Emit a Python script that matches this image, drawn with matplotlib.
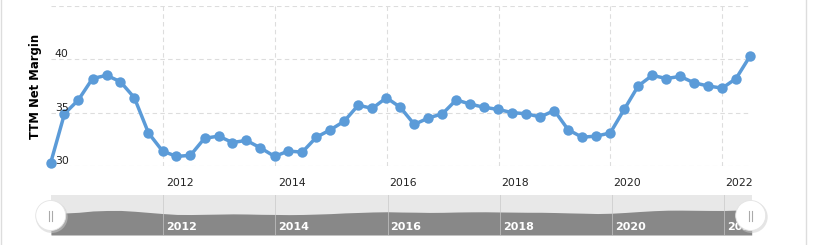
import matplotlib
matplotlib.use("Agg")
import matplotlib.pyplot as plt
import matplotlib.dates as mdates
import matplotlib.transforms as mtransforms
from matplotlib.patches import Ellipse
from matplotlib.lines import Line2D
import pandas as pd

# ── Data: quarterly TTM net margin (%) ────────────────────────────────
dates = pd.date_range("2009-12-31", periods=51, freq="QE")
margin = [
    30.3, 34.9, 36.2, 38.2, 38.5, 37.9, 36.4, 33.1, 31.4, 30.9,
    31.0, 32.6, 32.8, 32.2, 32.4, 31.7, 30.9, 31.4, 31.3, 32.7,
    33.4, 34.2, 35.7, 35.4, 36.4, 35.5, 33.9, 34.5, 34.9, 36.2,
    35.8, 35.5, 35.3, 35.0, 34.9, 34.6, 35.2, 33.4, 32.7, 32.8,
    33.1, 35.3, 37.5, 38.5, 38.2, 38.4, 37.8, 37.5, 37.3, 38.2,
    40.3,
]
year_ticks = [2012, 2014, 2016, 2018, 2020, 2022]
y_ticks = [30, 35, 40]

W, H = 836, 245
LINE = "#5b9bd8"
GRID = "#dddddd"

fig = plt.figure(figsize=(W / 100, H / 100), dpi=100)
fig.patch.set_facecolor("white")


def box(x0, y0, x1, y1):
    """pixel box (top-left origin) -> figure fraction rect"""
    return [x0 / W, 1 - y1 / H, (x1 - x0) / W, (y1 - y0) / H]


x = mdates.date2num(dates)
year_x = [mdates.date2num(pd.Timestamp(f"{y}-01-01")) for y in year_ticks]

# ── Main chart ────────────────────────────────────────────────────────
ax = fig.add_axes(box(50.7, 6, 750, 166))
ax.set_facecolor("none")
for s in ax.spines.values():
    s.set_visible(False)
ax.set_xlim(x[0], x[-1])
ax.set_ylim(30, 45)
ax.set_xticks(year_x)
ax.set_yticks([30, 35, 40, 45])
ax.grid(True, color=GRID, linestyle=(0, (4, 3)), linewidth=0.8)
ax.tick_params(length=0, labelleft=False)
ax.set_xticklabels([str(y) for y in year_ticks], fontsize=7.8, color="#222222", ha="left")
off = mtransforms.ScaledTranslation(3 / 100, -7 / 100, fig.dpi_scale_trans)
for lbl in ax.get_xticklabels():
    lbl.set_transform(lbl.get_transform() + off)

ax.plot(x, margin, color=LINE, linewidth=2.5, marker="o", markersize=7.5,
        markeredgewidth=0, clip_on=False, zorder=3)

ytrans = mtransforms.blended_transform_factory(ax.transAxes, ax.transData)
for v in y_ticks:
    ax.text(0.006, v, str(v), transform=ytrans, fontsize=7.8, color="#222222",
            ha="left", va="bottom", zorder=4)

fig.text(35 / W, 1 - 86 / H, "TTM Net Margin", rotation=90, fontsize=8.4,
         fontweight="bold", color="black", ha="center", va="center")

# ── Navigator ─────────────────────────────────────────────────────────
nav = fig.add_axes(box(51, 195, 751.7, 235))
nav.set_facecolor("#e8e8e8")
for s in nav.spines.values():
    s.set_visible(False)
nav.set_xlim(x[0], x[-1])
nav.set_ylim(0, 61.5)
nav_vals = pd.Series(margin).rolling(4, center=True, min_periods=1).mean()
nav.fill_between(x, nav_vals, 0, color="#888888", linewidth=0)
nav.set_xticks([])
nav.set_yticks([])
nav_off = mtransforms.ScaledTranslation(3 / 100, 0, fig.dpi_scale_trans)
for yx, y in zip(year_x, year_ticks):
    nav.axvline(yx, color="#c8c8c8", linewidth=0.7, alpha=0.7)
    nav.text(yx, 13, str(y), fontsize=8, color="white", fontweight="semibold",
             ha="left", va="center", clip_on=True,
             transform=nav.transData + nav_off)

# navigator handles
for cx in (50.7, 750.7):
    cy = 215.5
    fig.add_artist(Ellipse((cx / W + 1 / W, 1 - (cy + 1.5) / H), 32 / W, 32 / H,
                           transform=fig.transFigure, facecolor="#cccccc",
                           edgecolor="none", alpha=0.5))
    fig.add_artist(Ellipse((cx / W, 1 - cy / H), 30 / W, 30 / H,
                           transform=fig.transFigure, facecolor="white",
                           edgecolor="#e4e4e4", linewidth=0.6))
    for dx in (-1.5, 1.5):
        fig.add_artist(Line2D([(cx + dx) / W] * 2, [1 - (cy - 5) / H, 1 - (cy + 5) / H],
                              transform=fig.transFigure, color="#aaaaaa", linewidth=0.8))

# frame lines
fig.add_artist(Line2D([1 / W] * 2, [0, 1], transform=fig.transFigure,
                      color="#dddddd", linewidth=1))
fig.add_artist(Line2D([805.7 / W] * 2, [0, 1], transform=fig.transFigure,
                      color="#dddddd", linewidth=1))

fig.savefig("out.png", dpi=100, facecolor="white")
